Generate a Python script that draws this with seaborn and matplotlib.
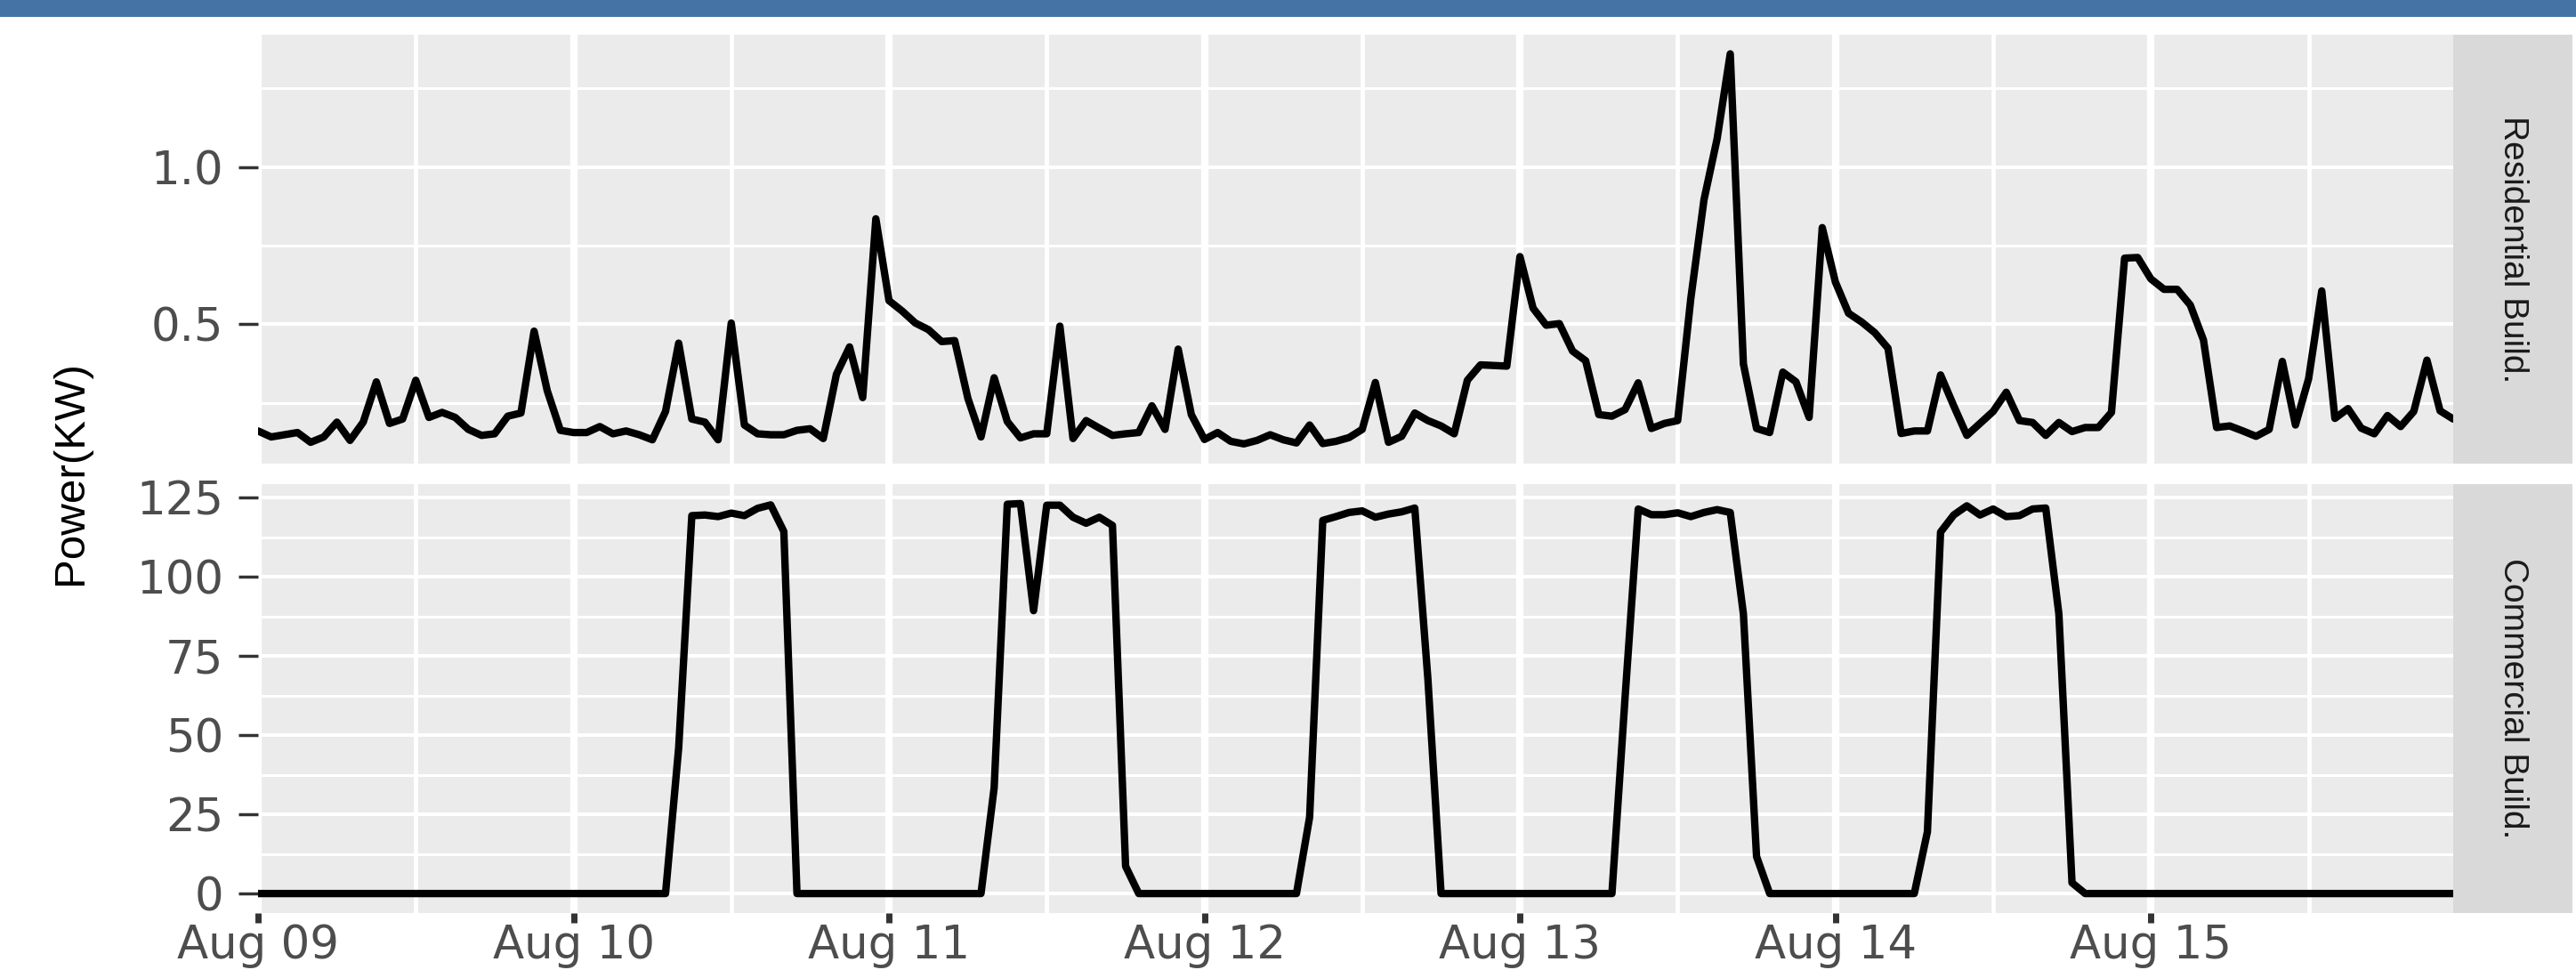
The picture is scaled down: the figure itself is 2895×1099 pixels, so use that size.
import matplotlib
matplotlib.use("Agg")
import numpy as np
import pandas as pd
import seaborn as sns
import matplotlib.pyplot as plt
import matplotlib.dates as mdates
from matplotlib import font_manager
from matplotlib.patches import Rectangle
from matplotlib.ticker import FixedLocator

# Hourly power readings, Aug 09 00:00 -> Aug 15 23:00
residential = [
    0.161, 0.142, 0.149, 0.156, 0.125, 0.142, 0.189, 0.131, 0.189, 0.317, 0.185, 0.199,
    0.322, 0.204, 0.220, 0.204, 0.166, 0.147, 0.152, 0.208, 0.218, 0.478, 0.289, 0.163,
    0.156, 0.156, 0.175, 0.152, 0.161, 0.149, 0.133, 0.223, 0.440, 0.199, 0.189, 0.133,
    0.504, 0.180, 0.152, 0.149, 0.149, 0.163, 0.168, 0.137, 0.341, 0.428, 0.267, 0.835,
    0.575, 0.542, 0.504, 0.483, 0.445, 0.448, 0.265, 0.142, 0.330, 0.191, 0.139, 0.152,
    0.152, 0.494, 0.137, 0.194, 0.170, 0.147, 0.152, 0.156, 0.241, 0.166, 0.421, 0.213,
    0.134, 0.156, 0.128, 0.120, 0.131, 0.149, 0.133, 0.123, 0.180, 0.121, 0.128, 0.140,
    0.166, 0.315, 0.125, 0.144, 0.218, 0.194, 0.177, 0.152, 0.322, 0.371, 0.369, 0.367,
    0.715, 0.551, 0.497, 0.502, 0.415, 0.384, 0.213, 0.208, 0.229, 0.314, 0.169, 0.185,
    0.194, 0.582, 0.895, 1.089, 1.359, 0.374, 0.169, 0.156, 0.348, 0.317, 0.204, 0.807,
    0.634, 0.535, 0.507, 0.473, 0.424, 0.153, 0.161, 0.161, 0.339, 0.241, 0.147, 0.185,
    0.223, 0.284, 0.194, 0.188, 0.147, 0.188, 0.159, 0.172, 0.172, 0.220, 0.710, 0.712,
    0.644, 0.611, 0.611, 0.561, 0.450, 0.172, 0.177, 0.161, 0.144, 0.166, 0.382, 0.180,
    0.327, 0.606, 0.201, 0.232, 0.170, 0.152, 0.210, 0.175, 0.223, 0.386, 0.225, 0.199,
]

commercial = [
    0, 0, 0, 0, 0, 0, 0, 0, 0, 0, 0, 0,
    0, 0, 0, 0, 0, 0, 0, 0, 0, 0, 0, 0,
    0, 0, 0, 0, 0, 0, 0, 0, 46.0, 119.3, 119.5, 119.0,
    120.1, 119.3, 121.6, 122.7, 114.3, 0, 0, 0, 0, 0, 0, 0,
    0, 0, 0, 0, 0, 0, 0, 0, 33.4, 122.9, 123.1, 89.3,
    122.6, 122.6, 118.8, 116.9, 118.8, 116.2, 8.6, 0, 0, 0, 0, 0,
    0, 0, 0, 0, 0, 0, 0, 0, 24.1, 117.8, 119.0, 120.3,
    120.8, 118.8, 119.8, 120.5, 121.7, 67.6, 0, 0, 0, 0, 0, 0,
    0, 0, 0, 0, 0, 0, 0, 0, 62.0, 121.4, 119.6, 119.6,
    120.2, 119.0, 120.3, 121.2, 120.3, 88.3, 11.7, 0, 0, 0, 0, 0,
    0, 0, 0, 0, 0, 0, 0, 19.5, 114.1, 119.5, 122.4, 119.5,
    121.4, 119.0, 119.3, 121.4, 121.7, 88.3, 3.4, 0, 0, 0, 0, 0,
    0, 0, 0, 0, 0, 0, 0, 0, 0, 0, 0, 0,
    0, 0, 0, 0, 0, 0, 0, 0, 0, 0, 0, 0,
]

panel_names = ["Residential Build.", "Commercial Build."]
res_ticks = [0.5, 1.0]
res_minor = [0.25, 0.75, 1.25]
com_ticks = [0, 25, 50, 75, 100, 125]
com_minor = [12.5, 37.5, 62.5, 87.5, 112.5]

times = pd.date_range("2017-08-09 00:00", periods=len(residential), freq="h")

sns.set_theme(style="darkgrid", rc={"axes.facecolor": "#EBEBEB", "grid.color": "white"})
plt.rcParams['font.family'] = ['DejaVu Sans']

installed = {f.name for f in font_manager.fontManager.ttflist}
if 'Liberation Sans Narrow' in installed:
    narrow, strip_size, title_size = 'Liberation Sans Narrow', 34, 43
else:
    narrow, strip_size, title_size = 'Liberation Sans', 28, 35.5

W, H = 2895, 1099
fig = plt.figure(figsize=(W / 100, H / 100), dpi=100)
fig.add_artist(Rectangle((0, 1 - 18.6 / H), 1, 18.6 / H, transform=fig.transFigure,
                         color="#4573A5", lw=0))

left, right = 290, 2757
panels = [(38.6, 520.7), (544, 1026)]
series = [residential, commercial]
majors = [res_ticks, com_ticks]
minors = [res_minor, com_minor]
labels = [["0.5", "1.0"], [str(t) for t in com_ticks]]

for k in range(2):
    top, bot = panels[k]
    ax = fig.add_axes([left / W, 1 - bot / H, (right - left) / W, (bot - top) / H])
    df = pd.DataFrame({"time": times, "power": series[k]})
    sns.lineplot(data=df, x="time", y="power", ax=ax, color="black", linewidth=6)

    vals = np.array(series[k])
    rng = vals.max() - vals.min()
    ax.set_ylim(vals.min() - 0.05 * rng, vals.max() + 0.05 * rng)
    ax.set_xlim(times[0], times[-1])

    ax.xaxis.set_major_locator(mdates.DayLocator())
    ax.xaxis.set_minor_locator(mdates.HourLocator(byhour=[12]))
    ax.xaxis.set_major_formatter(mdates.DateFormatter("%b %d"))
    ax.yaxis.set_major_locator(FixedLocator(majors[k]))
    ax.yaxis.set_minor_locator(FixedLocator(minors[k]))
    ax.set_yticklabels(labels[k])

    ax.grid(False)
    ax.grid(True, which="major", axis="x", color="white", lw=6)
    ax.grid(True, which="minor", axis="x", color="white", lw=3.4)
    ax.grid(True, which="major", axis="y", color="white", lw=2.9)
    ax.grid(True, which="minor", axis="y", color="white", lw=2.2)
    ax.set_axisbelow(True)
    for s in ax.spines.values():
        s.set_visible(False)
    ax.set_xlabel("")
    ax.set_ylabel("")

    ax.tick_params(which="minor", length=0)
    ax.tick_params(axis="y", which="major", length=16, width=2.5, color="#333333",
                   pad=12, labelsize=37, labelcolor="#4D4D4D", left=True)
    if k == 0:
        ax.tick_params(axis="x", which="both", length=0, labelbottom=False)
    else:
        ax.tick_params(axis="x", which="major", length=8, width=5, color="#333333",
                       pad=0.5, labelsize=37, labelcolor="#4D4D4D", bottom=True)

    # facet strip on the right
    sx = fig.add_axes([right / W, 1 - bot / H, (2891 - right) / W, (bot - top) / H])
    sx.set_facecolor("#D9D9D9")
    sx.set_xticks([])
    sx.set_yticks([])
    for s in sx.spines.values():
        s.set_visible(False)
    sx.text(0.5, 0.5, panel_names[k], rotation=-90, ha="center", va="center",
            transform=sx.transAxes, fontsize=strip_size, color="#1A1A1A", family=narrow)

fig.text(79 / W, 1 - 531 / H, "Power(KW)", rotation=90, ha="center", va="center",
         fontsize=title_size, color="black", family=narrow)

fig.savefig("out.png", dpi=100)
